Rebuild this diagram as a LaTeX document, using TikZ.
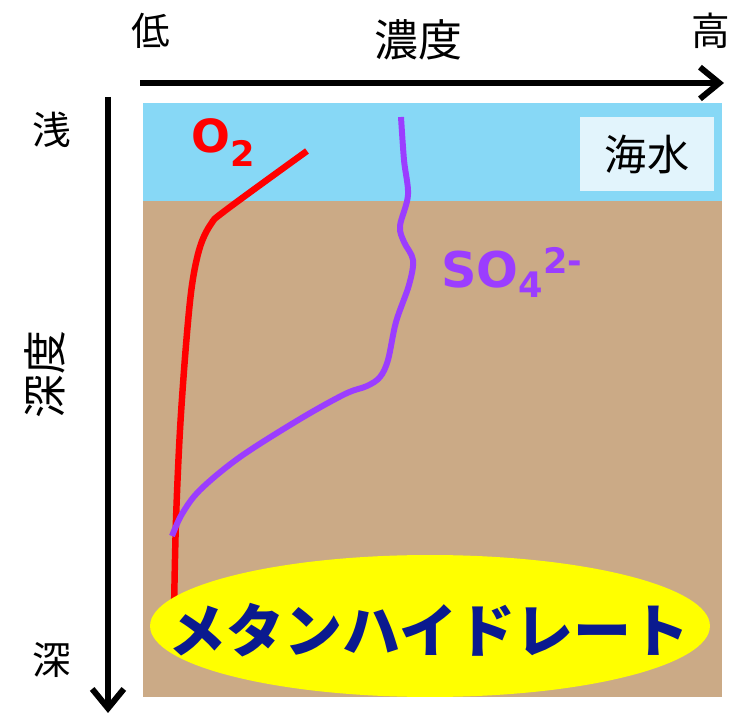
\documentclass[tikz,border=0pt]{standalone}
\usepackage{fontspec}
\setmainfont{Noto Sans CJK JP}
\newfontfamily\latinbold{DejaVu Sans Bold}
\usetikzlibrary{arrows.meta,shapes.geometric}
\definecolor{seac}{HTML}{87D8F6}
\definecolor{mudc}{HTML}{CBAA86}
\definecolor{boxc}{HTML}{E2F4FC}
\definecolor{o2c}{HTML}{FF0000}
\definecolor{soc}{HTML}{9B3DFF}
\definecolor{mhc}{HTML}{FFFF00}
\definecolor{navyc}{HTML}{0A1A8F}
\tikzset{
  axisline/.style={line width=6*0.567pt, -{Straight Barb[length=11pt,width=18pt,line width=6*0.567pt]}},
  axislabel/.style={font=\fontsize{22}{24}\selectfont, inner sep=0pt},
  curveo/.style={o2c, line width=6.5*0.567pt, line cap=butt},
  curves/.style={soc, line width=6*0.567pt},
  chemlabel/.style={inner sep=0pt, anchor=base west},
}
\newcommand{\smallidx}[2]{\raisebox{#1}{\fontsize{20}{22}\selectfont #2}}
\begin{document}
\begin{tikzpicture}[x=0.02cm,y=-0.02cm]
\useasboundingbox (0,0) rectangle (735,713);
% layers
\fill[seac] (143,103) rectangle (722,201);
\fill[mudc] (143,201) rectangle (722,697);
\node[fill=boxc, minimum width=2.7cm, minimum height=1.5cm, inner sep=0pt,
      font=\fontsize{24}{26}\selectfont] (seawater) at (647,154) {海水};
% curves
\draw[curveo] plot[smooth, tension=0.55] coordinates {(307,151) (226,210) (211,224) (200,247) (192,285) (186,345) (180,430) (176,520) (174,610)};
\draw[curves] plot[smooth, tension=0.55] coordinates {(401,117) (404,160) (408,195) (400,226) (404,242) (413,260) (409,285) (396,322) (388,360) (380,377) (367,386) (345,394) (300,419) (240,457) (200,490) (182,514) (172,536)};
% hydrate
\node[ellipse, fill=mhc, minimum width=11.2cm, minimum height=2.84cm, inner sep=0pt] (mh) at (430,626) {};
\node[navyc, font=\fontsize{33}{35}\selectfont\bfseries, inner sep=0pt] (mhtext) at (429,630) {メタンハイドレート};
% labels
\node[chemlabel, o2c, font=\fontsize{26}{28}\selectfont\latinbold] (o2) at (191,153) {O\smallidx{-7.5pt}{2}};
\node[chemlabel, soc, font=\fontsize{28}{30}\selectfont\latinbold] (so4) at (441,288) {SO\smallidx{-5.5pt}{4}\smallidx{8.5pt}{2-}};
% axes
\coordinate (hs) at (140,83);
\coordinate (he) at (724,83);
\coordinate (vs) at (108,97);
\coordinate (ve) at (108,713);
\draw[axisline] (hs) -- (he);
\draw[axisline] (vs) -- (ve);
\node[axislabel] (low) at (151,31) {低};
\node[axislabel, font=\fontsize{25}{27}\selectfont] (conc) at (418,40) {濃度};
\node[axislabel] (high) at (711,31) {高};
\node[axislabel] (shallow) at (52,130) {浅};
\node[axislabel, font=\fontsize{25}{27}\selectfont, rotate=90] (depth) at (45,375) {深度};
\node[axislabel] (deep) at (52,660) {深};
\end{tikzpicture}
\end{document}
